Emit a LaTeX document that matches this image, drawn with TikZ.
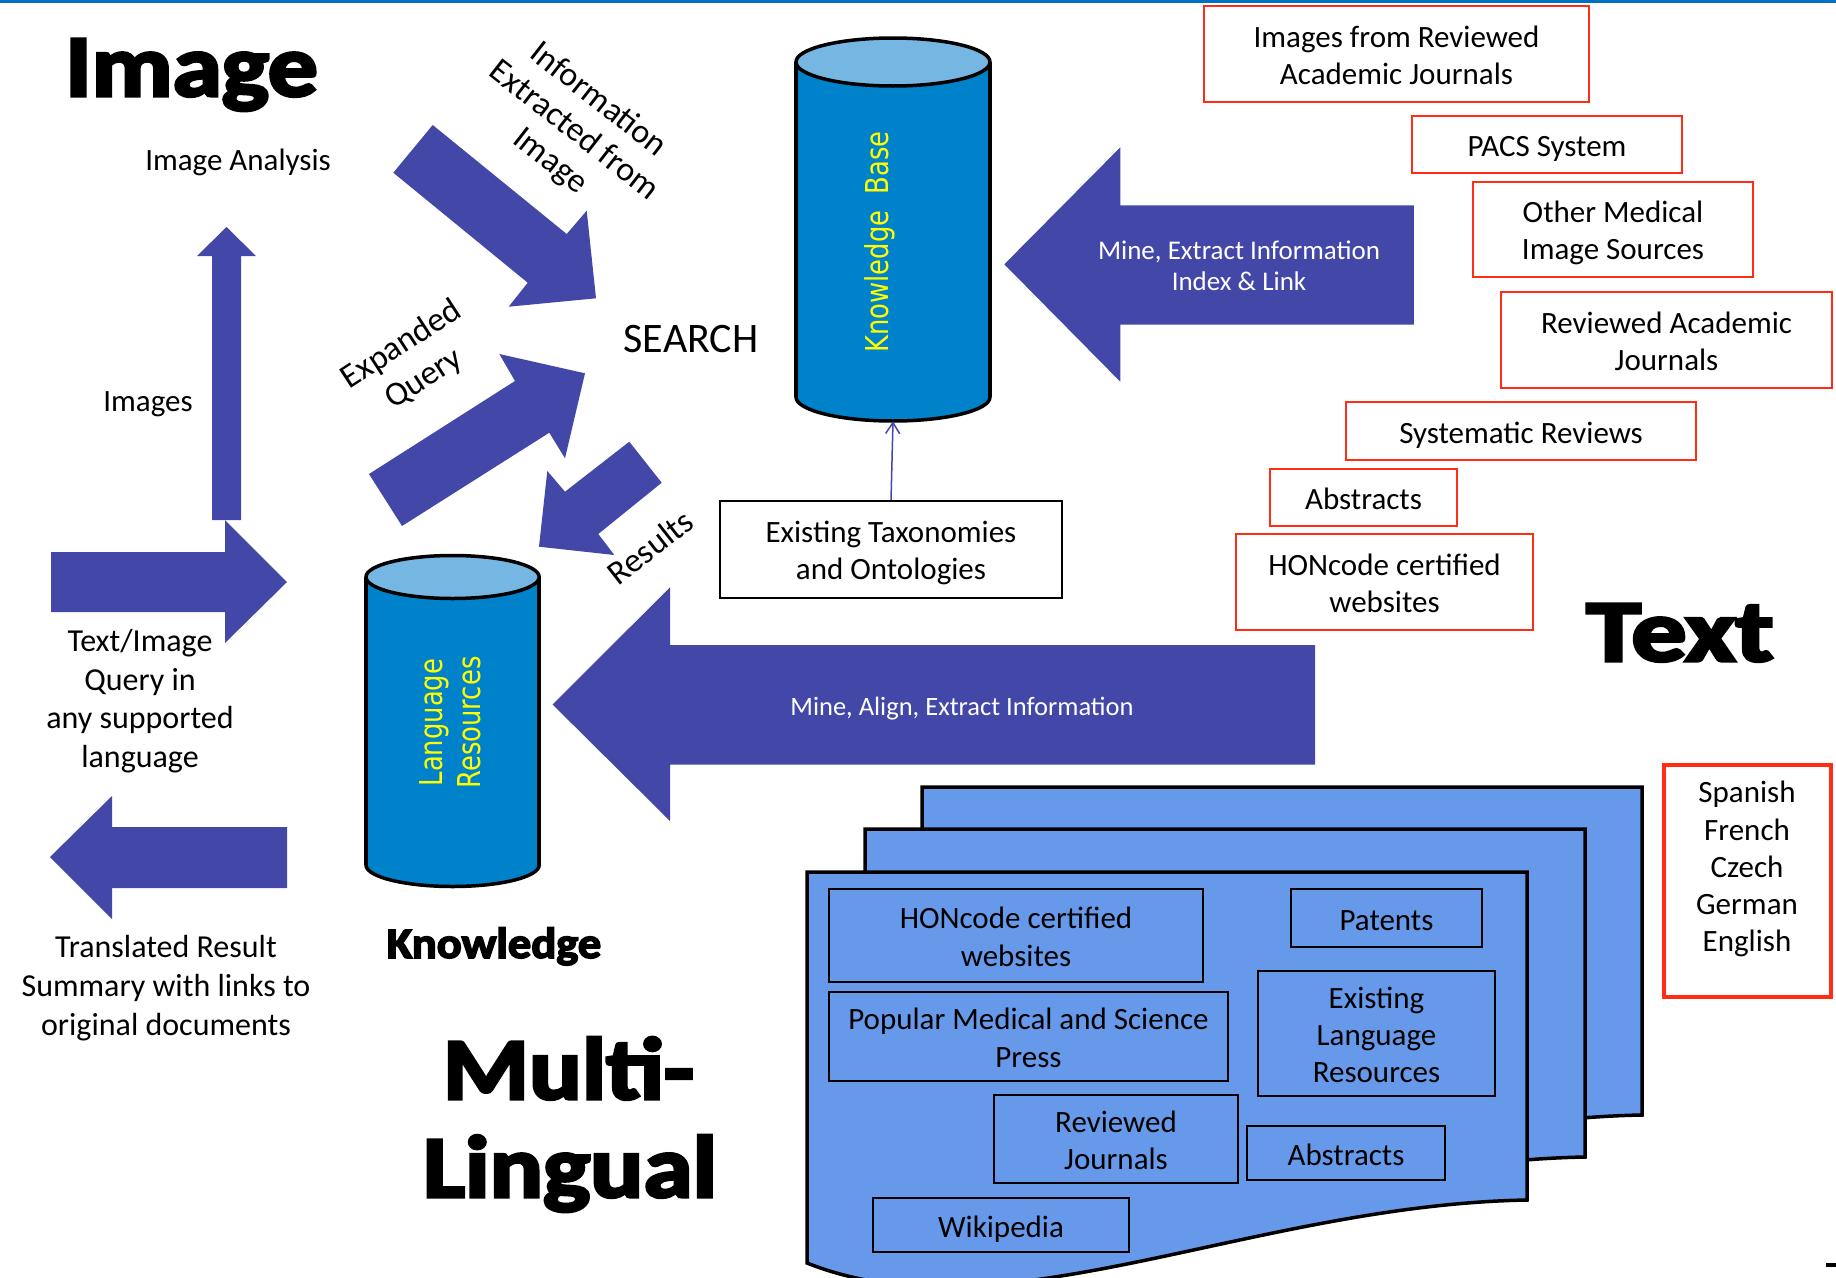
\documentclass[tikz,border=0pt]{standalone}
\usepackage{fontspec}
\usepackage{graphicx}
\setmainfont{Carlito}
\newfontfamily\titlefont{Carlito}[BoldFeatures={FakeBold=3.5}]
\newfontfamily\cylfont{DejaVu Sans}[FakeStretch=0.82]
\usetikzlibrary{arrows.meta}

\definecolor{arrowblue}{RGB}{67,72,168}
\definecolor{cylbodycol}{RGB}{0,130,202}
\definecolor{cyltopcol}{RGB}{118,182,226}
\definecolor{cylyellow}{RGB}{255,255,0}
\definecolor{pageblue}{RGB}{102,153,234}
\definecolor{boxred}{RGB}{255,45,20}
\definecolor{rulerblue}{RGB}{0,112,192}

\newcommand\fsz[2]{\fontsize{#1}{#2}\selectfont}
% strut that fixes the height and depth of a boxed line
\newcommand\bs{\rule[-5pt]{0pt}{34pt}}
% wide heavy title word
\newcommand\ttl[2]{\scalebox{#1}[1]{#2}}

% cylinder: centre x, x radius, top y, bottom y, y radius
\newcommand\drawcyl[5]{%
  \fill[cylbodycol] (#1-#2,#3) rectangle (#1+#2,#4);
  \fill[cylbodycol] (#1,#4) ellipse [x radius=#2pt, y radius=#5pt];
  \begin{scope}
    \clip (#1-#2-6,#4) rectangle (#1+#2+6,#4+#5+6);
    \draw[cylline] (#1,#4) ellipse [x radius=#2pt, y radius=#5pt];
  \end{scope}
  \draw[cylline] (#1-#2,#3) -- (#1-#2,#4);
  \draw[cylline] (#1+#2,#3) -- (#1+#2,#4);
  \filldraw[cylline, fill=cyltopcol] (#1,#3) ellipse [x radius=#2pt, y radius=#5pt];
}

% one sheet of the document stack
\newcommand\docsheet{%
  \path[sheet] (807,872) -- (1527,872) -- (1527,1200)
    .. controls (1250,1205) and (1000,1340) .. (807,1263) -- cycle;
}

\begin{document}
\begin{tikzpicture}[x=1pt,y=-1pt,
  blockarrow/.style={fill=arrowblue},
  cylline/.style={draw=black, line width=3.5pt},
  sheet/.style={fill=pageblue, draw=black, line width=3.5pt, line join=miter},
  txt/.style={inner sep=0pt, align=center, font=\fsz{31}{37}},
  lefttxt/.style={inner sep=0pt, align=center, font=\fsz{32}{38.7}},
  rottxt/.style={inner sep=0pt, align=center, font=\fsz{34}{39}},
  title/.style={inner sep=0pt, anchor=base, font=\titlefont\bfseries\fsz{88}{98}},
  redbox/.style={draw=boxred, line width=2pt, inner sep=0pt, align=center, font=\fsz{31}{37}},
  docbox/.style={draw=black, line width=1.8pt, inner sep=0pt, align=center, font=\fsz{31}{37.3}},
  plainbox/.style={draw=black, line width=2pt, inner sep=0pt, align=center, font=\fsz{31}{37}},
  cyllabel/.style={inner sep=0pt, align=center, text=cylyellow, font=\cylfont\fsz{31.5}{37.5}, rotate=90},
  arrowtext/.style={inner sep=0pt, align=center, text=white, font=\fsz{27}{31}},
  hidden/.style={inner sep=0pt, draw=none},
]
\useasboundingbox (0,0) rectangle (1836,1277);
\fill[white] (0,0) rectangle (1836,1277);

% rule along the top edge
\fill[rulerblue] (0,0) rectangle (1836,3);

% titles
\node[title] (ttlimage) at (191.5,96) {\ttl{1.13}{Image}};
\node[title] (ttltext) at (1680,661) {\ttl{1.25}{Text}};
\node[title] (ttlmulti) at (568.5,1099) {\ttl{1.12}{Multi-}};
\node[title] (ttllingual) at (570,1197) {\ttl{1.13}{Lingual}};
\node[inner sep=0pt, anchor=base, font=\titlefont\bfseries\fsz{43.5}{50}] (ttlknow) at (494,958) {\ttl{1.07}{Knowledge}};

% block arrows
\fill[blockarrow] (212,520) -- (212,256) -- (197,256) -- (226.5,227) -- (256,256) -- (241,256) -- (241,520) -- cycle;
\fill[blockarrow] (51,552) -- (225,552) -- (225,520) -- (287,582) -- (225,643) -- (225,612) -- (51,612) -- cycle;
\fill[blockarrow] (50,857) -- (112,796) -- (112,827) -- (287,827) -- (287,888) -- (112,888) -- (112,919) -- cycle;
\fill[blockarrow] (432.7,125) -- (566.7,234) -- (586.7,210.7) -- (596,298.3) -- (508.7,306.7) -- (527.7,282.7) -- (393.3,172.7) -- cycle;
\fill[blockarrow] (369,474) -- (515,381) -- (499.3,354) -- (585,373.3) -- (565,458.3) -- (549.3,432.7) -- (402,526) -- cycle;
\fill[blockarrow] (629.3,441.7) -- (565,491.7) -- (547.3,471) -- (539,546.7) -- (614.3,555) -- (598.3,534) -- (661.7,482.7) -- cycle;
\fill[blockarrow] (1004.3,264.3) -- (1120.3,147.3) -- (1120.3,205.4) -- (1413.8,205.4) -- (1413.8,324.5) -- (1120.3,324.5) -- (1120.3,381.7) -- cycle;
\fill[blockarrow] (552.6,704.5) -- (670,587.3) -- (670,645) -- (1315,645) -- (1315,764.6) -- (670,764.6) -- (670,821) -- cycle;

\node[arrowtext] (mineidx) at (1239,266) {Mine, Extract Information\\Index \& Link};
\node[arrowtext, font=\fsz{26.5}{31}] (minealign) at (962,709) {Mine, Align, Extract Information};

% labels on the left
\node[txt] (imganalysis) at (238,162) {Image Analysis};
\node[txt] (imagesl) at (148,404) {Images};
\node[lefttxt] (query) at (140,701) {Text/Image\\Query in\\any supported\\language};
\node[lefttxt] (translated) at (166,988) {Translated Result\\Summary with links to\\original documents};

% labels along the search arrows
\node[inner sep=0pt, font=\fsz{42}{48}] (search) at (691,339) {SEARCH};
\node[rottxt, rotate=-38] (infoext) at (574,131) {Information\\Extracted from\\Image};
\node[rottxt, rotate=33, font=\fsz{34}{41}] (expq) at (413,362) {Expanded\\Query};
\node[rottxt, rotate=38] (results) at (650,547) {Results};

% knowledge base and language resources
\drawcyl{893}{97}{62}{397}{24}
\node[hidden, minimum width=194, minimum height=383] (kb) at (893,229.5) {};
\node[cyllabel] (kbtext) at (879.5,242) {Knowledge\ \ Base};

\drawcyl{452.6}{86.6}{577}{865}{21.5}
\node[cyllabel] (lrtext) at (450,722.5) {Language\\Resources};

\node[plainbox, minimum width=342, minimum height=97] (tax) at (891,549.5) {\bs Existing Taxonomies\\and Ontologies\bs};
\draw[arrowblue, line width=1.5pt, -{Straight Barb[length=11pt,width=14pt]}] (tax.north) -- (kb.south);

% image and text sources
\node[redbox, minimum width=385, minimum height=96] (rimg) at (1396.5,54) {\bs Images from Reviewed\\Academic Journals\bs};
\node[redbox, minimum width=270, minimum height=57] (rpacs) at (1547,144.5) {\bs PACS System};
\node[redbox, minimum width=280, minimum height=95] (rother) at (1613,229.5) {\bs Other Medical\\Image Sources\bs};
\node[redbox, minimum width=331, minimum height=96] (rrev) at (1666.5,340) {\bs Reviewed Academic\\Journals\bs};
\node[redbox, minimum width=350, minimum height=58] (rsys) at (1521,431) {\bs Systematic Reviews};
\node[redbox, minimum width=187, minimum height=57] (rabs) at (1363.5,497.5) {\bs Abstracts};
\node[redbox, minimum width=297, minimum height=96] (rhon) at (1384.5,582) {\bs HONcode certified\\websites\bs};

% document stack
\begin{scope}[shift={(115,-85)}]\docsheet\end{scope}
\begin{scope}[shift={(58,-43)}]\docsheet\end{scope}
\docsheet

\node[docbox, minimum width=374, minimum height=93] (dhon) at (1016,935.5) {\bs HONcode certified\\websites\bs};
\node[docbox, minimum width=191, minimum height=58] (dpat) at (1386.5,918) {\bs Patents};
\node[docbox, minimum width=399, minimum height=89] (dpop) at (1028.5,1036.5) {\bs Popular Medical and Science\\Press\bs};
\node[docbox, minimum width=237, minimum height=125] (dlang) at (1376.5,1033.5) {\bs Existing\\Language\\Resources\bs};
\node[docbox, minimum width=244, minimum height=88] (drev) at (1116,1139) {\bs Reviewed\\Journals\bs};
\node[docbox, minimum width=198, minimum height=54] (dabs) at (1346,1153) {\bs Abstracts};
\node[docbox, minimum width=256, minimum height=54] (dwiki) at (1001,1225) {\bs Wikipedia};

% supported languages
\node[draw=boxred, line width=4pt, inner sep=0pt, minimum width=167, minimum height=232] (langbox) at (1747.5,881) {};
\node[txt, font=\fsz{31}{37.2}] (langlist) at (1747,865.5) {\bs Spanish\\French\\Czech\\German\\English\bs};

% edge of a mark in the lower right corner
\fill[black] (1826,1263) rectangle (1836,1267);
\end{tikzpicture}
\end{document}
